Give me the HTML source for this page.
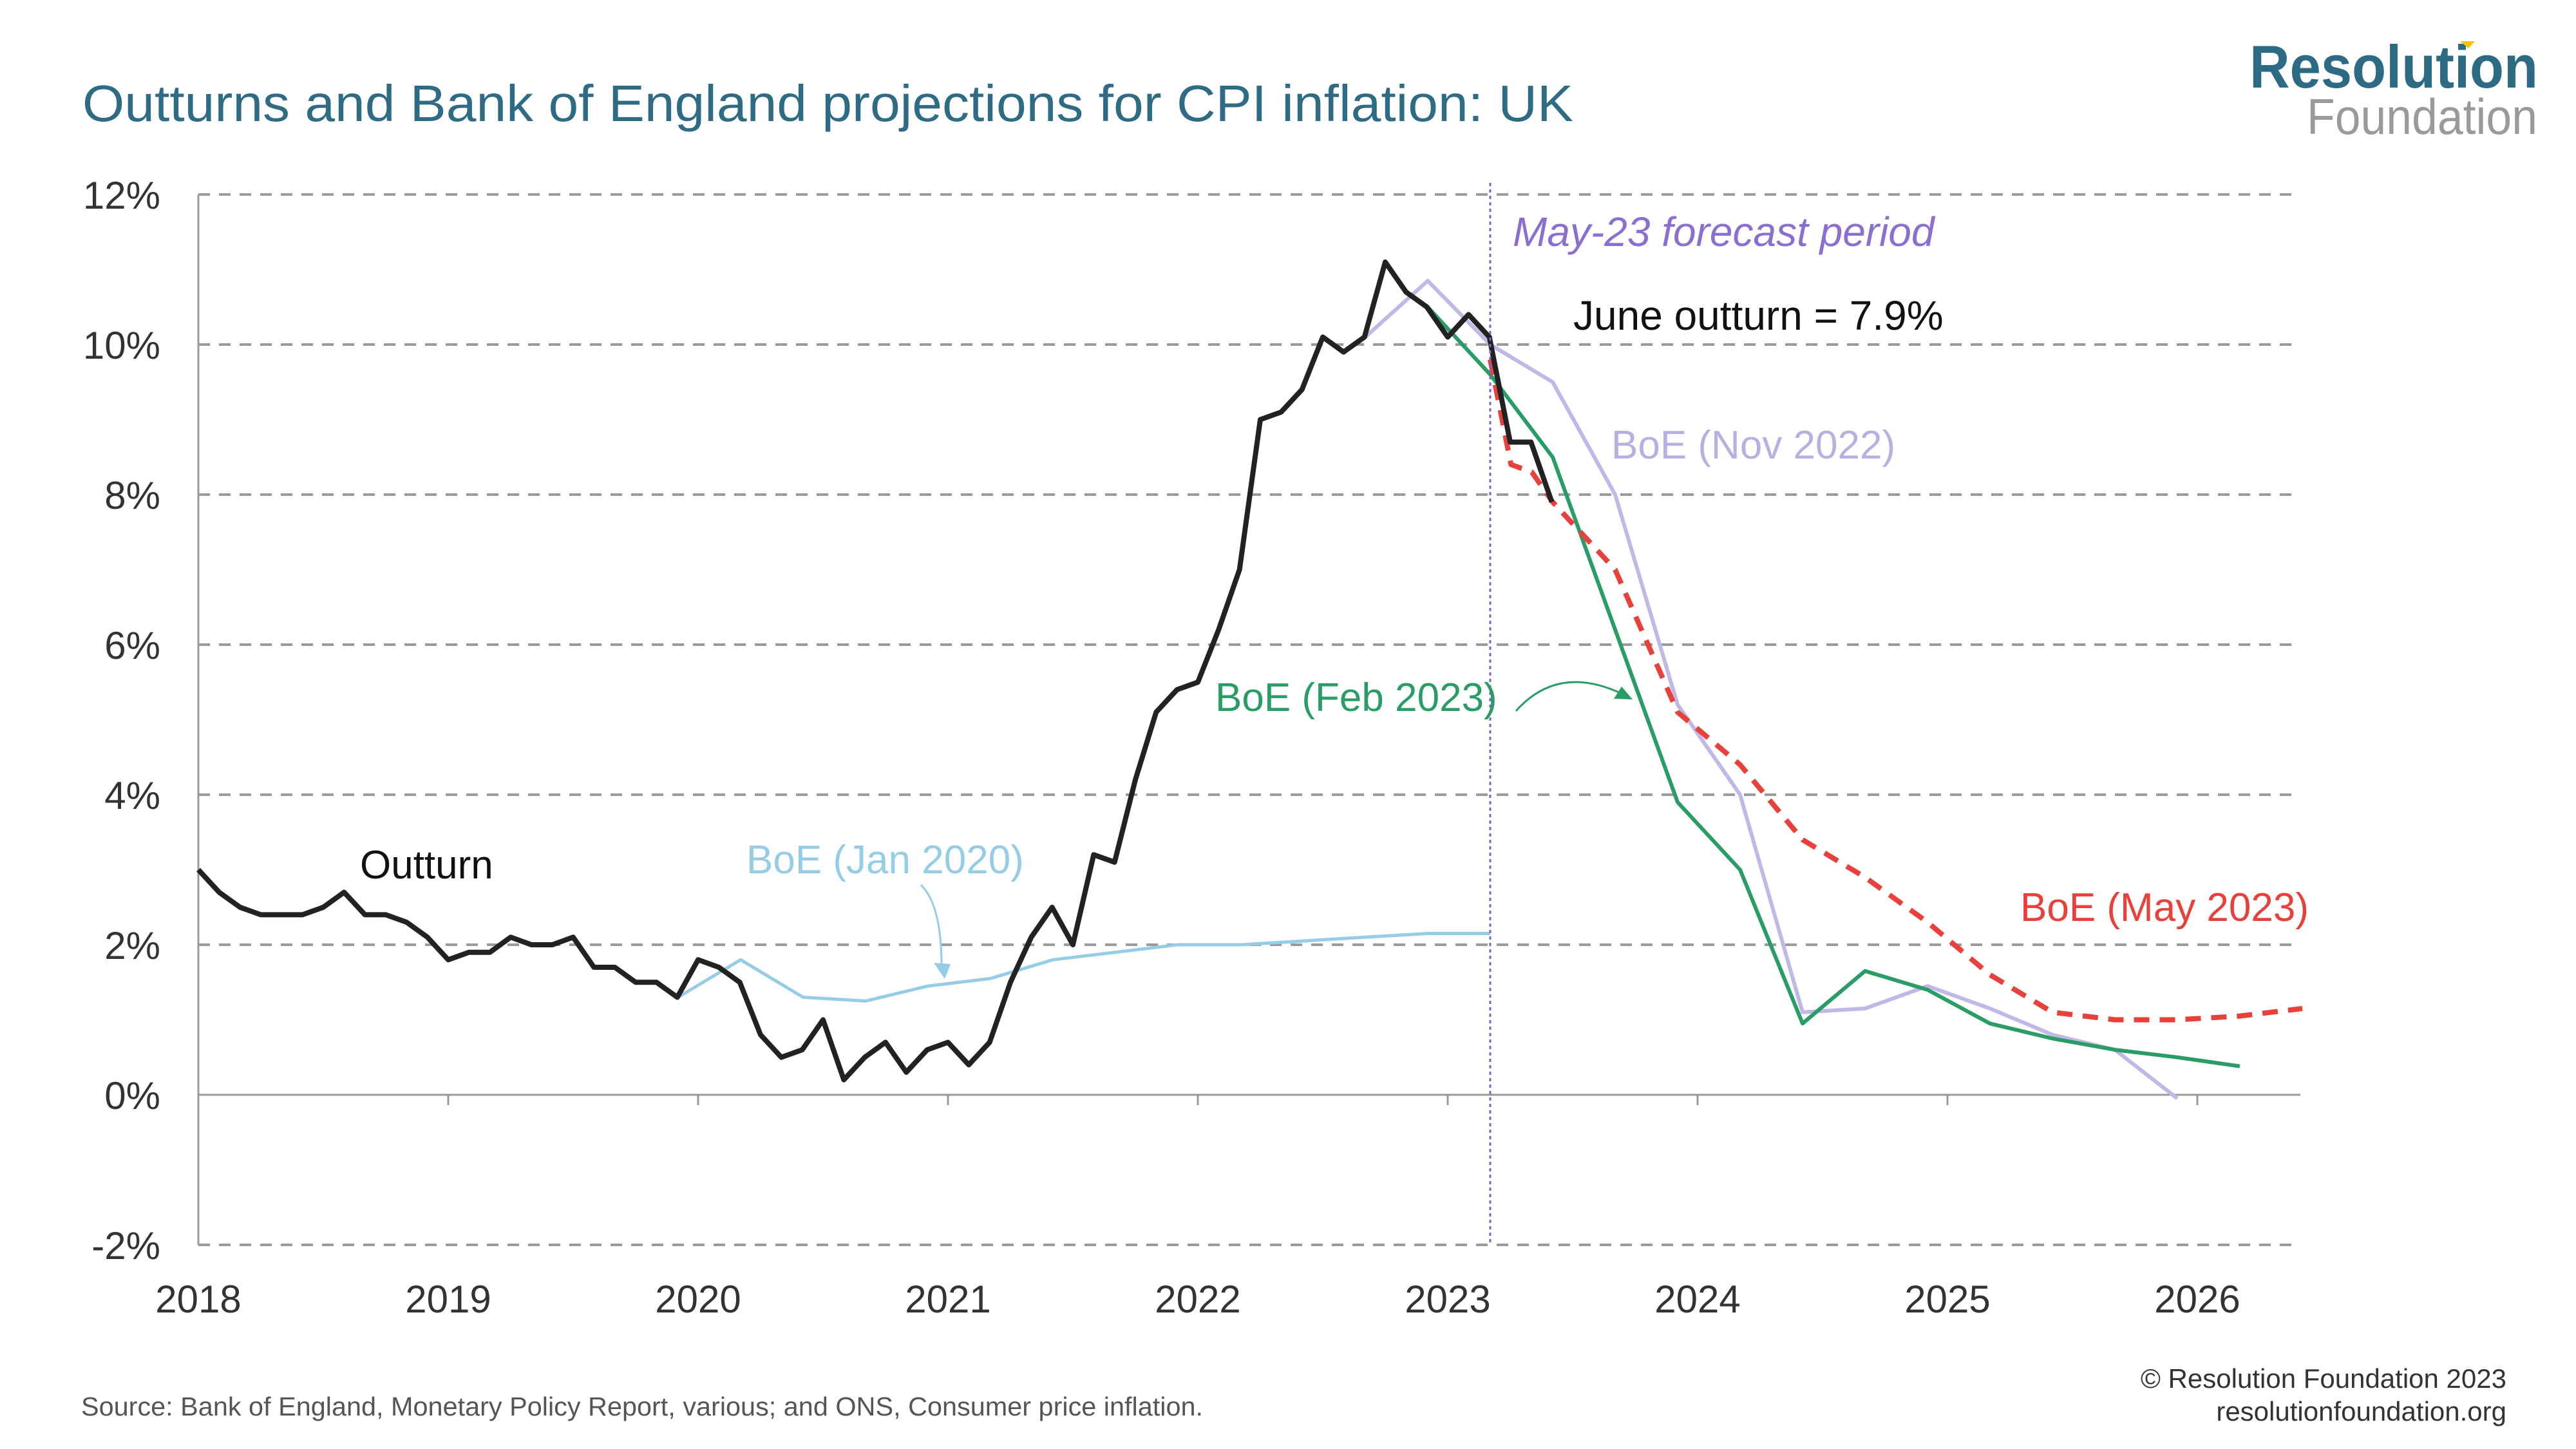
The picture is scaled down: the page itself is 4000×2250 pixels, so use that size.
<!DOCTYPE html>
<html><head><meta charset="utf-8"><style>
html,body{margin:0;padding:0;background:#fff;}
svg{display:block;font-family:"Liberation Sans",sans-serif;}
</style></head><body>
<svg id="chart" width="4000" height="2250" viewBox="0 0 4000 2250" xmlns="http://www.w3.org/2000/svg">
<rect width="4000" height="2250" fill="#fff"/>
<text x="128" y="188" font-size="80" fill="#2e6b84" textLength="2315" lengthAdjust="spacingAndGlyphs">Outturns and Bank of England projections for CPI inflation: UK</text>
<g>
<text x="3493" y="136" font-size="94" font-weight="bold" fill="#2d6a84" textLength="448" lengthAdjust="spacingAndGlyphs">Resolution</text>
<polygon points="3820,64 3843,64 3833,75" fill="#f2c500"/>
<text x="3582" y="208" font-size="78" fill="#9a9a9a" textLength="358" lengthAdjust="spacingAndGlyphs">Foundation</text>
</g>
<g id="grid"></g>
<g id="series"></g>
<line id="fline" x1="2326" y1="285" x2="2326" y2="1941" stroke="#7a66c8" stroke-width="3" stroke-dasharray="5,5"/>
<text x="2349" y="382" font-size="64" font-style="italic" fill="#8a6fd1">May-23 forecast period</text>
<text x="2443" y="512" font-size="64" fill="#111">June outturn = 7.9%</text>
<text x="2502" y="712" font-size="62" fill="#b9afe2">BoE (Nov 2022)</text>
<text x="1887" y="1104" font-size="62" fill="#2a9d66">BoE (Feb 2023)</text>
<path d="M2354,1104 Q2420,1030 2520,1078" fill="none" stroke="#2a9d66" stroke-width="3"/>
<polygon points="2535,1086 2506,1085 2518,1066" fill="#2a9d66"/>
<text x="559" y="1364" font-size="62" fill="#111">Outturn</text>
<text x="1159" y="1356" font-size="62" fill="#95cde6">BoE (Jan 2020)</text>
<path d="M1430,1374 Q1462,1405 1462,1500" fill="none" stroke="#95cde6" stroke-width="3"/>
<polygon points="1467,1520 1450,1495 1476,1497" fill="#95cde6"/>
<text x="3585" y="1430" font-size="62" fill="#e8413c" text-anchor="end">BoE (May 2023)</text>
<text x="126" y="2198" font-size="41" fill="#555" textLength="1742" lengthAdjust="spacingAndGlyphs">Source: Bank of England, Monetary Policy Report, various; and ONS, Consumer price inflation.</text>
<text x="3892" y="2155" font-size="42" fill="#333" text-anchor="end">© Resolution Foundation 2023</text>
<text x="3892" y="2206" font-size="42" fill="#333" text-anchor="end">resolutionfoundation.org</text>
</svg>
<script>
const yTicks=[12,10,8,6,4,2,0,-2];
const yTickLabels=["12%","10%","8%","6%","4%","2%","0%","-2%"];
const xYears=[2018,2019,2020,2021,2022,2023,2024,2025,2026];
const outturnStart=2018;
const outturn=[3.0,2.7,2.5,2.4,2.4,2.4,2.5,2.7,2.4,2.4,2.3,2.1,
1.8,1.9,1.9,2.1,2.0,2.0,2.1,1.7,1.7,1.5,1.5,1.3,
1.8,1.7,1.5,0.8,0.5,0.6,1.0,0.2,0.5,0.7,0.3,0.6,
0.7,0.4,0.7,1.5,2.1,2.5,2.0,3.2,3.1,4.2,5.1,5.4,
5.5,6.2,7.0,9.0,9.1,9.4,10.1,9.9,10.1,11.1,10.7,10.5,
10.1,10.4,10.1,8.7,8.7,7.9];
const jan2020Start=2019.92;
const jan2020=[1.3,1.8,1.3,1.25,1.45,1.55,1.8,1.9,2.0,2.0,2.05,2.1,2.15,2.15];
const nov2022Start=2022.67;
const nov2022=[10.1,10.85,10.0,9.5,8.0,5.2,4.0,1.1,1.15,1.45,1.15,0.8,0.6,-0.05];
const feb2023Start=2022.92;
const feb2023=[10.5,9.6,8.5,6.2,3.9,3.0,0.95,1.65,1.4,0.95,0.75,0.6,0.5,0.38];
const may2023MonthlyStart=2023.17;
const may2023Monthly=[9.8,8.4,8.3,7.9];
const may2023QStart=2023.67;
const may2023Quarterly=[7.0,5.1,4.4,3.4,2.9,2.3,1.6,1.1,1.0,1.0,1.05,1.15];
const forecastStart=2023.17;

const NS="http://www.w3.org/2000/svg";
const X0=308,YR=388,Y0=1700,PP=116.5;
function xs(t){return X0+(t-2018)*YR;}
function ys(v){return Y0-v*PP;}
function mk(tag,attrs,parent){const e=document.createElementNS(NS,tag);for(const k in attrs)e.setAttribute(k,attrs[k]);parent.appendChild(e);return e;}
const grid=document.getElementById('grid'),series=document.getElementById('series');
const fl=document.getElementById('fline');
fl.setAttribute('x1',xs(forecastStart));fl.setAttribute('x2',xs(forecastStart));
fl.setAttribute('y1',ys(12)-18);fl.setAttribute('y2',ys(-2));
yTicks.forEach((v,i)=>{
  const l=mk('line',{x1:X0,x2:3572,y1:ys(v),y2:ys(v),stroke:v===0?'#999':'#9a9a9a','stroke-width':v===0?3:4,'stroke-dasharray':v===0?'none':'18,14'},grid);
  
  
  const t=mk('text',{x:249,y:ys(v)+22,'font-size':60,fill:'#333','text-anchor':'end'},grid);
  t.textContent=yTickLabels[i];
  
  
});
const ax=mk('line',{x1:X0,x2:X0,y1:ys(12),y2:ys(-2),stroke:'#999','stroke-width':3},grid);


xYears.forEach(y=>{
  const tk=mk('line',{x1:xs(y),x2:xs(y),y1:Y0,y2:Y0+16,stroke:'#999','stroke-width':3},grid);
  
  
  const t=mk('text',{x:xs(y),y:2038,'font-size':60,fill:'#333','text-anchor':'middle'},grid);
  t.textContent=y;
  
  
});
function pts(start,step,vals){return vals.map((v,i)=>xs(start+i*step).toFixed(1)+','+ys(v).toFixed(1));}
function line(p,color,w,dash,name){
  const e=mk('polyline',{points:p.join(' '),fill:'none',stroke:color,'stroke-width':w,'stroke-linejoin':'round','stroke-dasharray':dash||'none'},series);
  
  
}
line(pts(jan2020Start,0.25,jan2020),'#95cde6',5,null,'series-boe-jan-2020');
line(pts(nov2022Start,0.25,nov2022),'#c2b8e8',6,null,'series-boe-nov-2022');
line(pts(feb2023Start,0.25,feb2023),'#2a9d66',6,null,'series-boe-feb-2023');
line(pts(may2023MonthlyStart,1/12,may2023Monthly).concat(pts(may2023QStart,0.25,may2023Quarterly)),'#e8413c',8,'24,16','series-boe-may-2023');
line(pts(outturnStart,1/12,outturn),'#222',8,null,'series-outturn');
</script>
</body></html>
